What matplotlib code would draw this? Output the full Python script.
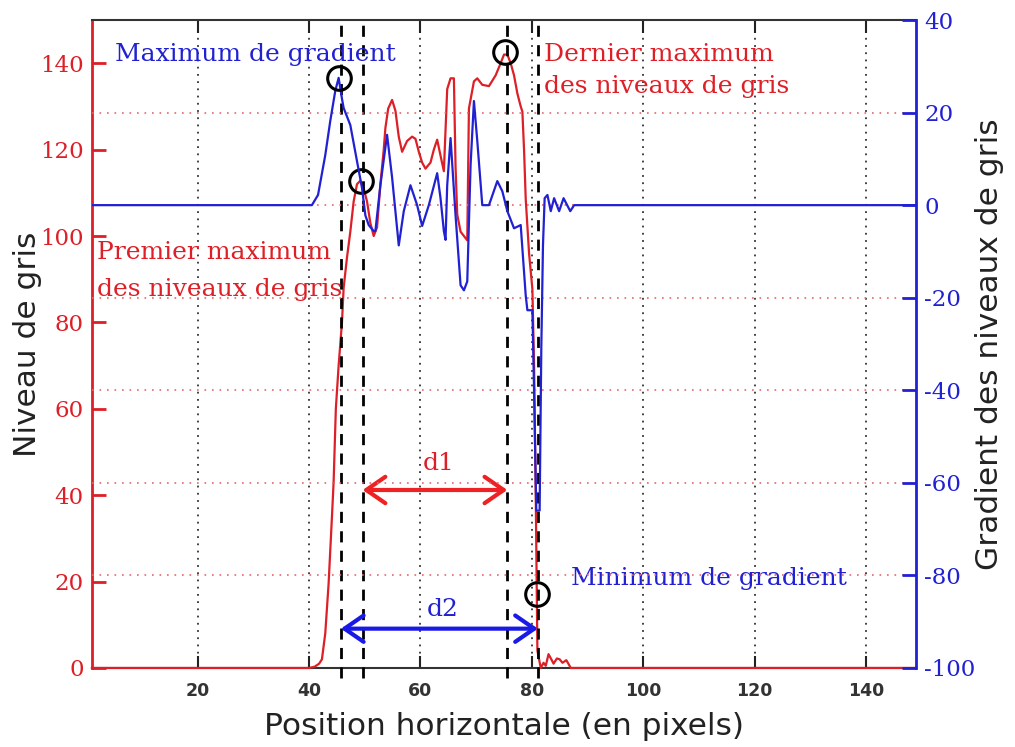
import matplotlib
matplotlib.use("Agg")
import matplotlib.pyplot as plt

plt.rcParams["axes.unicode_minus"] = False

# ---------------- data ----------------
x_gray = [1, 40, 41, 41.8, 42.3, 42.9, 43.5, 44.1, 44.4, 44.8, 45.3, 45.9, 46.2, 46.8,
          47.4, 48, 48.6, 49.2, 49.8, 50.4, 51.0, 51.6, 52.2, 52.8, 53.4, 53.7, 54.2,
          54.9, 55.5, 56.1, 56.7, 57.6, 58.5, 59.1, 59.7, 60.3, 60.9, 61.8, 62.4, 63,
          63.6, 64.2, 64.8, 65.4, 66, 66.3, 66.6, 67.2, 67.8, 68.4, 68.7, 69.6, 70.2,
          71.1, 72.3, 73.5, 74.4, 75, 75.6, 76.2, 76.8, 77.4, 78, 78.3, 78.6, 78.9,
          79.5, 80.1, 80.4, 80.7, 81, 81.6, 82.1, 82.5, 83, 83.5, 83.9, 84.5, 85, 85.5,
          86.2, 87, 149]
gray = [0, 0, 0.3, 1, 2, 8, 19.5, 35, 43, 60, 70, 80, 88, 95,
        101, 108, 112, 112.8, 111, 108, 103, 100, 102, 112, 120, 125, 129.5,
        131.5, 129, 123, 119.5, 122, 123, 122.5, 119.5, 117, 115.6, 117, 120, 122.3,
        118.6, 115, 134, 136.5, 136.5, 116, 105, 101, 100, 99, 129.5, 135.8, 136.5,
        135, 134.7, 137.2, 140, 142, 142, 140, 137.2, 133, 130, 128.8, 120, 108.6,
        96, 87.7, 70, 40, 4, 0, 1.2, 0.5, 3.2, 2, 1, 2.2, 2, 1.2,
        1.8, 0, 0]

x_grad = [1, 40.5, 41.6, 42.9, 43.8, 44.7, 45.3, 45.9, 46.2, 47.4, 48.6, 49.5, 50.1,
          50.7, 51.6, 51.9, 52.8, 54, 54.9, 56.1, 57, 58.2, 59.4, 60.3, 61.5, 63, 63.6,
          64.2, 64.5, 64.8, 65.4, 66.3, 67.2, 67.8, 68.4, 69, 69.6, 70.2, 71.1, 72.3,
          73.8, 74.7, 75.6, 76.8, 78, 78.9, 79.2, 80.1, 80.4, 80.8, 81.4, 81.7, 82,
          82.3, 82.8, 83.4, 84, 84.9, 85.7, 86.9, 87.6, 149]
grad = [0, 0, 2.2, 10.8, 18.2, 24.7, 27.5, 23, 21, 17.3, 9.5, 3.7, -2.2,
        -4.3, -5.6, -5.6, 4.3, 15.2, 6, -8.7, -1.3, 4.3, 0, -4.5, 0, 6.9, 1.5,
        -5.6, -7.5, 4.3, 14.5, -2.2, -17.3, -18.4, -16.5, 8.7, 22.5, 13.9, 0, 0,
        5.2, 3, -1.3, -5, -4.3, -19.5, -22.7, -22.7, -40, -66, -66, -31, -8.7,
        1.5, 2.2, -1.3, 1.5, -1.3, 1.5, -1.3, 0, 0]

x_ticks = [20, 40, 60, 80, 100, 120, 140]
gray_ticks = [0, 20, 40, 60, 80, 100, 120, 140]
grad_ticks = [-100, -80, -60, -40, -20, 0, 20, 40]

marker_lines = [45.7, 49.6, 75.6, 81.1]
circle_x = [49.3, 75.2, 81.0]          # on gray axis
circle_y = [112.8, 142.5, 17.2]
circle_grad_x = [45.3]                 # on gradient axis
circle_grad_y = [27.5]

d1_span = (49.6, 75.6, 41.2)
d2_span = (45.7, 81.1, 9.1)

RED = "#dd1f27"
BLUE = "#2121d3"
SERIF = "DejaVu Serif"
SANS = "DejaVu Sans"

fig = plt.figure(figsize=(10.15, 7.47), dpi=100)
ax1 = fig.add_axes([0.0906, 0.1058, 0.8119, 0.8674])
ax2 = ax1.twinx()

ax1.set_xlim(1, 149)
ax1.set_ylim(0, 150)
ax2.set_ylim(-100, 40)

# grids
for xv in x_ticks:
    ax1.axvline(xv, color="#333333", lw=1.3, linestyle=(0, (1, 3)), zorder=0.5)
for yv in grad_ticks[1:-1]:
    ax2.axhline(yv, color="#e46a6a", lw=1.2, linestyle=(0, (1, 3.5)), zorder=0.5)

# curves
ax1.plot(x_gray, gray, color=RED, lw=1.6, zorder=3, clip_on=False)
ax2.plot(x_grad, grad, color=BLUE, lw=1.6, zorder=3)

# dashed markers
for xv in marker_lines:
    ax1.axvline(xv, ymin=-0.015, ymax=1.0, color="black", lw=2.0,
                linestyle=(0, (4, 3)), zorder=4, clip_on=False)

# circles
ax1.plot(circle_x, circle_y, linestyle="none", marker="o", ms=17, mfc="none",
         mec="black", mew=2.2, zorder=6)
ax2.plot(circle_grad_x, circle_grad_y, linestyle="none", marker="o", ms=17,
         mfc="none", mec="black", mew=2.2, zorder=6)

# arrows
for span, col in ((d1_span, "#ee2222"), (d2_span, "#1a1ae6")):
    ax1.annotate("", xy=(span[0], span[2]), xytext=(span[1], span[2]),
                 arrowprops=dict(arrowstyle="<->,head_length=0.55,head_width=0.38",
                                 color=col, lw=3, mutation_scale=25,
                                 shrinkA=0, shrinkB=0), zorder=7)
ax1.text(63.2, 45.8, "d1", color=RED, family=SERIF, fontsize=18, ha="center",
         va="baseline", zorder=8)
ax1.text(63.9, 12.1, "d2", color=BLUE, family=SERIF, fontsize=18, ha="center",
         va="baseline", zorder=8)

# annotations
ax2.set_zorder(ax1.get_zorder() + 1)
ax2.patch.set_visible(False)
ann_kw = dict(family=SERIF, fontsize=18, ha="left", va="baseline", zorder=8)
ax1.text(5.1, 140.5, "Maximum de gradient", color=BLUE, **ann_kw)
ax1.text(1.9, 94.7, "Premier maximum", color=RED, **ann_kw)
ax1.text(1.9, 86.2, "des niveaux de gris", color=RED, **ann_kw)
ax1.text(82.1, 140.5, "Dernier maximum", color=RED, **ann_kw)
ax1.text(82.1, 133.0, "des niveaux de gris", color=RED, **ann_kw)
ax1.text(87.0, 19.1, "Minimum de gradient", color=BLUE, **ann_kw)

# axes styling
ax1.set_xticks(x_ticks)
ax1.set_yticks(gray_ticks)
ax2.set_yticks(grad_ticks)
ax1.tick_params(axis="x", direction="in", length=9, width=1.5, top=True,
                pad=10, labelsize=12.5, labelcolor="#333333", color="#222222")
for lab in ax1.get_xticklabels():
    lab.set_fontweight("bold")
ax1.tick_params(axis="y", direction="in", length=10, width=2, color=RED,
                labelcolor=RED, labelsize=16.5, pad=6)
ax2.tick_params(axis="y", direction="in", length=10, width=2, color=BLUE,
                labelcolor=BLUE, labelsize=16.5, pad=6)
for lab in ax1.get_yticklabels() + ax2.get_yticklabels():
    lab.set_family(SERIF)

for sp in ("top", "bottom"):
    ax1.spines[sp].set_color("#333333")
    ax1.spines[sp].set_linewidth(1.5)
    ax2.spines[sp].set_visible(False)
ax1.spines["left"].set_color(RED)
ax1.spines["left"].set_linewidth(2)
ax2.spines["left"].set_visible(False)
ax2.spines["right"].set_color(BLUE)
ax2.spines["right"].set_linewidth(2)
ax1.spines["right"].set_visible(False)

ax1.set_xlabel("Position horizontale (en pixels)", family=SANS,
               fontsize=22.5, color="#222222", labelpad=9)
ax1.set_ylabel("Niveau de gris", family=SANS, fontsize=22.5, color="#222222")
ax2.set_ylabel("Gradient des niveaux de gris", family=SANS, fontsize=22.5,
               color="#222222")
ax1.yaxis.set_label_coords(-0.061, 0.5)
ax2.yaxis.set_label_coords(1.072, 0.5)

fig.savefig("out.png", dpi=100)
